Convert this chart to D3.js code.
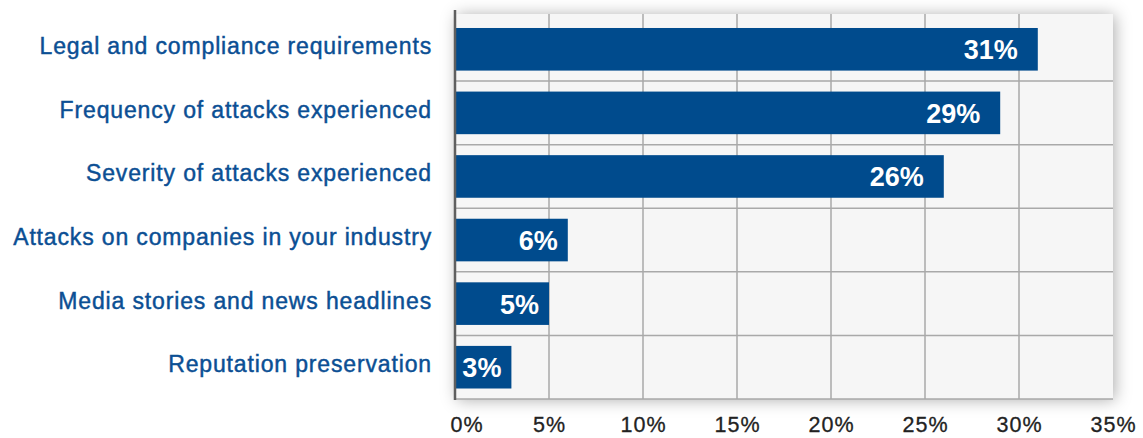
<!DOCTYPE html>
<html>
<head>
<meta charset="utf-8">
<script src="https://cdn.jsdelivr.net/npm/d3@7/dist/d3.min.js"></script>
<style>
  html, body { margin: 0; padding: 0; background: #ffffff; }
  svg { display: block; }
</style>
</head>
<body>
<svg id="chart" width="1143" height="438"></svg>
<script>
const categories = [
  "Legal and compliance requirements",
  "Frequency of attacks experienced",
  "Severity of attacks experienced",
  "Attacks on companies in your industry",
  "Media stories and news headlines",
  "Reputation preservation"
];
const values = [31, 29, 26, 6, 5, 3];
const tickValues = [0, 5, 10, 15, 20, 25, 30, 35];
const tickLabels = ["0%", "5%", "10%", "15%", "20%", "25%", "30%", "35%"];

const svg = d3.select("#chart");
const plot = { left: 455, right: 1113, top: 14, bottom: 399 };

const x = d3.scaleLinear().domain([0, 35]).range([plot.left, plot.right]);
const y = d3.scaleBand().domain(categories).range([plot.top + 3.5, plot.bottom]).paddingInner(0.33).paddingOuter(0.165);

const defs = svg.append("defs");
const f = defs.append("filter").attr("id", "shadow").attr("x", "-10%").attr("y", "-20%").attr("width", "120%").attr("height", "140%");
f.append("feDropShadow").attr("dx", 2).attr("dy", 1).attr("stdDeviation", 8).attr("flood-color", "#000").attr("flood-opacity", 0.32);

// panel
svg.append("rect")
  .attr("x", plot.left).attr("y", plot.top)
  .attr("width", plot.right - plot.left).attr("height", plot.bottom - plot.top)
  .attr("fill", "#f6f6f6")
  .attr("filter", "url(#shadow)");

// vertical gridlines
svg.append("g").selectAll("line")
  .data(tickValues.slice(1, -1))
  .join("line")
  .attr("x1", d => x(d)).attr("x2", d => x(d))
  .attr("y1", plot.top).attr("y2", plot.bottom)
  .attr("stroke", "#a9a9a9").attr("stroke-width", 1.5);

// horizontal separators between bands + bottom
const step = y.step();
const seps = categories.slice(1).map(c => y(c) - (step - y.bandwidth()) / 2);
seps.push(plot.bottom);
svg.append("g").selectAll("line")
  .data(seps)
  .join("line")
  .attr("x1", plot.left).attr("x2", plot.right)
  .attr("y1", d => d).attr("y2", d => d)
  .attr("stroke", "#a9a9a9").attr("stroke-width", 1.5);

// bars
svg.append("g").selectAll("rect")
  .data(values)
  .join("rect")
  .attr("x", x(0))
  .attr("y", (d, i) => y(categories[i]))
  .attr("width", d => x(d) - x(0))
  .attr("height", y.bandwidth())
  .attr("fill", "#004b8d");

// bar labels
svg.append("g").selectAll("text")
  .data(values)
  .join("text")
  .attr("x", d => x(d) - (d > 10 ? 20 : 10))
  .attr("y", (d, i) => y(categories[i]) + y.bandwidth() / 2 + 10)
  .attr("text-anchor", "end")
  .attr("fill", "#ffffff")
  .attr("font-family", "'Liberation Sans', Arial, sans-serif")
  .attr("font-weight", "bold")
  .attr("font-size", 27)
  .text(d => d + "%");

// left axis line
svg.append("line")
  .attr("x1", plot.left).attr("x2", plot.left)
  .attr("y1", 10).attr("y2", plot.bottom + 1)
  .attr("stroke", "#5f5f5f").attr("stroke-width", 2.5);

// category labels
svg.append("g").selectAll("text")
  .data(categories)
  .join("text")
  .attr("x", 432)
  .attr("y", d => y(d) + y.bandwidth() / 2 + 5)
  .attr("text-anchor", "end")
  .attr("fill", "#0b4f94")
  .attr("stroke", "#0b4f94")
  .attr("stroke-width", 0.45)
  .attr("font-family", "'Liberation Sans', Arial, sans-serif")
  .attr("font-size", 23)
  .attr("letter-spacing", "0.85px")
  .text(d => d);

// x axis
const xAxis = d3.axisBottom(x)
  .tickValues(tickValues)
  .tickFormat((d, i) => tickLabels[i])
  .tickSize(0)
  .tickPadding(0);
const ax = svg.append("g")
  .attr("transform", `translate(0, ${plot.bottom})`)
  .call(xAxis);
ax.select(".domain").remove();
ax.selectAll("text")
  .attr("y", 33)
  .attr("dy", 0)
  .attr("fill", "#222222")
  .attr("stroke", "#222222")
  .attr("stroke-width", 0.3)
  .attr("font-family", "'Liberation Sans', Arial, sans-serif")
  .attr("font-size", 21.5)
  .attr("letter-spacing", "1px");
ax.selectAll(".tick").filter((d, i) => i === 0).select("text")
  .attr("text-anchor", "start")
  .attr("dx", -5);
</script>
</body>
</html>
